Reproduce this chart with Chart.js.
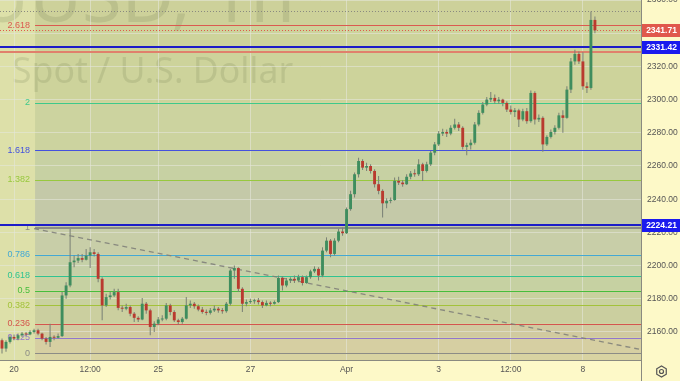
<!DOCTYPE html>
<html>
<head>
<meta charset="utf-8">
<script src="https://cdn.jsdelivr.net/npm/chart.js@4.4.1/dist/chart.umd.min.js"></script>
<style>
html, body { margin: 0; padding: 0; background: #fdf9c8; }
#c { display: block; }
</style>
</head>
<body>
<canvas id="c" width="680" height="381"></canvas>
<script>
// XAUUSD 1h candles, one slot per candle
const opens = [
 2155,2150,2154,2157,2156,2158,2159,2158.5,2160,2161,
 2159,2156,2154,2157,2156.5,2157.5,2182,2188,2202,2203,
 2204.5,2203.5,2206,2208,2207,2192,2176,2181,2182,2184,
 2174.5,2174,2175,2171,2168.5,2167.5,2177,2173,2163,2165,
 2167.5,2168,2176,2172,2167,2166,2168,2176,2177,2175.5,
 2173.5,2172,2171.5,2173,2174,2173,2172.5,2177,2197,2198.5,
 2186,2177,2178,2178.5,2179,2178,2176,2177.5,2177,2178,
 2192.5,2188,2191,2192,2191,2193,2189.5,2193,2196.5,2198,
 2194,2209,2215,2207,2215,2220.5,2219.5,2234,2243,2255,
 2263,2259,2260,2257,2249,2245,2237.5,2239,2239.5,2251,
 2250,2249,2253.5,2255.5,2255,2261,2257,2261,2268,2273,
 2279.5,2280.5,2279.5,2283,2285,2283,2271.5,2272.5,2274,2285,
 2292,2297,2300,2301,2299,2300,2298,2294,2292.5,2293.5,
 2288,2293,2287,2304,2288,2289,2273,2277.5,2280.5,2283,
 2290.5,2289,2306,2323,2327.5,2323,2308,2307,2348
];
const highs = [
 2156,2155,2158,2158.5,2159,2160,2160,2161,2162,2162,
 2159.5,2157,2165,2158,2159,2184,2190,2222,2206,2207,
 2207,2210,2211,2210,2208,2193,2183,2184,2186,2186,
 2176,2177,2176,2172,2169.5,2180.5,2178,2174,2166.5,2169,
 2170,2177.5,2177,2173,2168,2169,2181,2179,2178,2176.5,
 2175,2173.5,2174.5,2176,2175,2174.5,2178,2198,2200,2199,
 2187,2179.5,2180,2180,2180.5,2179,2179,2178.5,2179,2194,
 2193.5,2192.5,2193,2194,2194.5,2194,2194,2197.5,2199.5,2199,
 2211,2217,2216,2216.5,2222,2223,2235,2245,2256,2265,
 2264,2262,2261,2258,2254,2246,2240.5,2241,2253,2253.5,
 2251.5,2255,2257,2258,2264,2262,2262.5,2269,2274.5,2281,
 2282.5,2282,2284.5,2288.5,2286.5,2284,2274,2276,2286.5,2293.5,
 2298.5,2301.5,2304.5,2303,2301.5,2300.5,2299,2296.5,2295,2294.5,
 2294.5,2295,2305.5,2305,2291,2290,2278.5,2282,2284.5,2292,
 2293.5,2308,2325,2330,2329,2328.5,2310.5,2353,2350
];
const lows = [
 2147,2148,2153,2155,2155,2157,2157.5,2158,2159,2158,
 2155,2152.5,2151,2155,2156,2157,2180,2187,2199,2201.5,
 2202,2203,2198.5,2205.5,2190,2167,2175,2179.5,2181,2173,
 2172,2173,2169.5,2166,2166,2167,2171,2158,2160,2164,
 2166.5,2167,2170,2166,2164.5,2165,2167.5,2174.5,2174,2172.5,
 2171,2170,2170.5,2172,2171.5,2171,2171.5,2176,2192,2184,
 2172,2175.5,2177,2177,2176.5,2174.5,2175.5,2175.5,2176.5,2177.5,
 2185,2187,2189.5,2189.5,2190,2188,2189,2192,2195.5,2191,
 2193,2208,2205,2206,2214,2218,2219,2233,2241,2253,
 2257.5,2257,2255.5,2247,2243,2229,2234.5,2237.5,2239,2248.5,
 2247.5,2248.5,2252,2253.5,2254,2251,2256,2260,2266.5,2272,
 2278,2277.5,2278.5,2282,2281,2270,2266.5,2270,2273,2284,
 2291,2296,2298.5,2297.5,2297.5,2296,2292.5,2291,2289.5,2283.5,
 2287,2285.5,2286,2285,2286.5,2268.5,2272,2276.5,2279,2282,
 2280,2288.5,2304,2321,2321.5,2306,2304,2306,2340
];
const closes = [
 2150,2154,2157,2156,2158,2159,2158.5,2160,2161,2159,
 2156,2154,2157,2156.5,2157.5,2182,2188,2202,2203,2204.5,
 2203.5,2206,2208,2207,2192,2176,2181,2182,2184,2174.5,
 2174,2175,2171,2168.5,2167.5,2177,2173,2163,2165,2167.5,
 2168,2176,2172,2167,2166,2168,2176,2177,2175.5,2173.5,
 2172,2171.5,2173,2174,2173,2172.5,2177,2197,2198.5,2186,
 2177,2178,2178.5,2179,2178,2176,2177.5,2177,2178,2192.5,
 2188,2191,2192,2191,2193,2189.5,2193,2196.5,2198,2194,
 2209,2215,2207,2215,2220.5,2219.5,2234,2243,2255,2263,
 2259,2260,2257,2249,2245,2237.5,2239,2239.5,2251,2250,
 2249,2253.5,2255.5,2255,2261,2257,2261,2268,2273,2279.5,
 2280.5,2279.5,2283,2285,2283,2271.5,2272.5,2274,2285,2292,
 2297,2300,2301,2299,2300,2298,2294,2292.5,2293.5,2288,
 2293,2287,2304,2288,2289,2273,2277.5,2280.5,2283,2290.5,
 2289,2306,2323,2327.5,2323,2308,2307,2348,2341.71
];

const slotCount = 160;
const tickSlots = [3, 22, 39, 62, 86, 109, 127, 145];
const tickTexts = ['20', '12:00', '25', '27', 'Apr', '3', '12:00', '8'];
const yTickValues = [2160, 2180, 2200, 2220, 2240, 2260, 2280, 2300, 2320, 2340, 2360];
const yMin = 2143.1, yMax = 2360;

// fibonacci drawing
const fibLow = 2147.2, fibHigh = 2222.7, fibStartSlot = 8.25;
const fibLevels = [0, 0.125, 0.236, 0.382, 0.5, 0.618, 0.786, 1, 1.382, 1.618, 2, 2.618];
const fibNames = ['0', '0.125', '0.236', '0.382', '0.5', '0.618', '0.786', '1', '1.382', '1.618', '2', '2.618'];
const fibColors = ['#8c8c86', '#9277cc', '#d4554e', '#a3c23a', '#47bd3c', '#2fc392', '#43a8d4',
                   '#8c8c86', '#98c83e', '#4452de', '#3ec98a', '#db5a50'];
// bands from below level 0 up to above 2.618
const bandColors = ['#d8d3a2', '#d6cfa2', '#d1caa0', '#cbcf9f', '#c9d19f', '#c6d1a2', '#c5d0a7',
                    '#c8cea8', '#c4c9a8', '#c7d1a3', '#ccd39f', '#cdd39b', '#cdd19a'];

// trend line ends
const trendSlots = [8, 159];
const trendValues = [2222.3, 2149.6];

// horizontal lines and price tags
const blueLines = [2331.42, 2224.21];
const salmonLine = 2328.6;
const highLine = 2353.2;
const lastPrice = 2341.71;

const FONT = '"Liberation Sans", Arial, sans-serif';

const labels = [];
for (let i = 0; i < slotCount; i++) labels.push('');
tickSlots.forEach((s, k) => { labels[s] = tickTexts[k]; });

const bodies = opens.map((o, i) => [o, closes[i]]);
const bodyColors = opens.map((o, i) => closes[i] >= o ? '#3f8d5e' : '#b93a2f');
const wicks = lows.map((l, i) => [l, highs[i]]);
const trendData = labels.map(() => null);
trendSlots.forEach((s, k) => { trendData[s] = trendValues[k]; });

function fibPrice(lv) { return fibLow + lv * (fibHigh - fibLow); }
function crisp(y) { return Math.round(y) + 0.5; }

const scene = {
    id: 'scene',
    beforeDraw(chart) {
        const ctx = chart.ctx, a = chart.chartArea, ys = chart.scales.y;
        const x0 = chart.scales.x.getPixelForValue(fibStartSlot);
        ctx.save();
        ctx.fillStyle = '#fdf9c8';
        ctx.fillRect(0, 0, chart.width, chart.height);
        ctx.fillStyle = '#dde0a9';
        ctx.fillRect(a.left, a.top, a.width, a.height);
        ctx.beginPath();
        ctx.rect(a.left, a.top, a.width, a.height);
        ctx.clip();
        const edges = [yMin].concat(fibLevels.map(fibPrice), [yMax]);
        for (let k = 0; k < edges.length - 1; k++) {
            const top = ys.getPixelForValue(edges[k + 1]);
            const bot = ys.getPixelForValue(edges[k]);
            ctx.fillStyle = bandColors[k];
            ctx.fillRect(x0, top, a.right - x0, bot - top);
        }
        // watermark
        ctx.fillStyle = 'rgba(100,110,70,0.17)';
        ctx.textBaseline = 'alphabetic';
        ctx.textAlign = 'right';
        ctx.font = '72px "Noto Sans", sans-serif';
        ctx.fillText('XAUUSD, 1h', 295, 22);
        ctx.textAlign = 'left';
        ctx.font = '34px "Noto Sans", sans-serif';
        const w = ctx.measureText('Spot / U.S. Dollar').width;
        ctx.font = (34 * 281 / w).toFixed(1) + 'px "Noto Sans", sans-serif';
        ctx.fillText('Spot / U.S. Dollar', 12, 83);
        ctx.restore();
    },
    beforeDatasetsDraw(chart) {
        const ctx = chart.ctx, a = chart.chartArea, ys = chart.scales.y;
        const x0 = chart.scales.x.getPixelForValue(fibStartSlot);
        ctx.save();
        ctx.beginPath();
        ctx.rect(a.left, a.top, a.width, a.height);
        ctx.clip();
        // fib levels
        ctx.font = '9px ' + FONT;
        ctx.textAlign = 'right';
        ctx.textBaseline = 'middle';
        fibLevels.forEach((lv, k) => {
            const y = ys.getPixelForValue(fibPrice(lv));
            ctx.strokeStyle = fibColors[k];
            ctx.lineWidth = lv === 1 ? 2 : 1;
            ctx.beginPath();
            const yy = lv === 1 ? Math.round(y) : crisp(y);
            ctx.moveTo(x0, yy);
            ctx.lineTo(a.right, yy);
            ctx.stroke();
            ctx.fillStyle = fibColors[k];
            ctx.fillText(fibNames[k], x0 - 5, y);
        });
        // dotted high and price lines
        ctx.setLineDash([1, 2]);
        ctx.lineWidth = 1;
        ctx.strokeStyle = '#8a8a80';
        let y = crisp(ys.getPixelForValue(highLine));
        ctx.beginPath(); ctx.moveTo(a.left, y); ctx.lineTo(a.right, y); ctx.stroke();
        ctx.strokeStyle = '#e0584c';
        y = crisp(ys.getPixelForValue(lastPrice));
        ctx.beginPath(); ctx.moveTo(a.left, y); ctx.lineTo(a.right, y); ctx.stroke();
        ctx.setLineDash([]);
        // salmon + blue horizontals
        ctx.lineWidth = 2;
        ctx.strokeStyle = '#e0806c';
        y = Math.round(ys.getPixelForValue(salmonLine));
        ctx.beginPath(); ctx.moveTo(a.left, y); ctx.lineTo(a.right, y); ctx.stroke();
        ctx.strokeStyle = '#1c1cc8';
        blueLines.forEach(v => {
            const yb = Math.round(ys.getPixelForValue(v));
            ctx.beginPath(); ctx.moveTo(a.left, yb); ctx.lineTo(a.right, yb); ctx.stroke();
        });
        ctx.restore();
    },
    afterDraw(chart) {
        const ctx = chart.ctx, a = chart.chartArea, ys = chart.scales.y;
        ctx.save();
        // axis line down through the time scale
        ctx.strokeStyle = '#8a8a80';
        ctx.lineWidth = 1;
        ctx.beginPath();
        ctx.moveTo(Math.round(a.right) + 0.5, a.bottom);
        ctx.lineTo(Math.round(a.right) + 0.5, chart.height);
        ctx.stroke();
        // price tags
        ctx.font = 'bold 8.5px ' + FONT;
        ctx.textAlign = 'center';
        ctx.textBaseline = 'middle';
        const tags = [[lastPrice, '#e0584c'], [blueLines[0], '#1a1aee'], [blueLines[1], '#1a1aee']];
        tags.forEach(t => {
            const y = ys.getPixelForValue(t[0]);
            ctx.fillStyle = t[1];
            ctx.fillRect(a.right + 1, Math.round(y) - 6, chart.width - a.right - 1, 13);
            ctx.fillStyle = '#ffffff';
            ctx.fillText(t[0].toFixed(2), (a.right + chart.width) / 2 + 1, y + 0.5);
        });
        // settings icon in the corner
        const cx = (a.right + chart.width) / 2 + 1, cy = (a.bottom + chart.height) / 2 + 1;
        ctx.strokeStyle = '#555';
        ctx.lineWidth = 1.2;
        ctx.beginPath();
        for (let k = 0; k < 6; k++) {
            const ang = Math.PI / 6 + k * Math.PI / 3;
            const px = cx + 5.5 * Math.cos(ang), py = cy + 5.5 * Math.sin(ang);
            if (k === 0) ctx.moveTo(px, py); else ctx.lineTo(px, py);
        }
        ctx.closePath();
        ctx.stroke();
        ctx.beginPath();
        ctx.arc(cx, cy, 2, 0, Math.PI * 2);
        ctx.stroke();
        ctx.restore();
    }
};

const gridColor = 'rgba(228,230,218,0.6)';

new Chart(document.getElementById('c'), {
    type: 'bar',
    data: {
        labels: labels,
        datasets: [
            {
                label: 'body',
                data: bodies,
                backgroundColor: bodyColors,
                borderWidth: 0,
                barPercentage: 0.72,
                categoryPercentage: 1,
                grouped: false,
                minBarLength: 1,
                order: 0
            },
            {
                label: 'wick',
                data: wicks,
                backgroundColor: '#7b8276',
                borderWidth: 0,
                barPercentage: 0.26,
                categoryPercentage: 1,
                grouped: false,
                order: 1
            },
            {
                type: 'line',
                label: 'trend',
                data: trendData,
                borderColor: 'rgba(125,125,120,0.85)',
                borderWidth: 1.3,
                borderDash: [5, 4],
                pointRadius: 0,
                spanGaps: true,
                order: 2
            }
        ]
    },
    options: {
        responsive: false,
        animation: false,
        devicePixelRatio: 1,
        layout: { padding: 0 },
        plugins: { legend: { display: false }, tooltip: { enabled: false } },
        scales: {
            x: {
                type: 'category',
                offset: true,
                grid: { offset: false, color: gridColor, drawTicks: false },
                border: { color: '#8a8a80' },
                ticks: { autoSkip: false, maxRotation: 0, padding: 5, color: '#555', font: { family: FONT, size: 8.5 } },
                afterBuildTicks: s => { s.ticks = tickSlots.map(v => ({ value: v })); },
                afterFit: s => { s.height = 21; s.paddingLeft = 0; s.paddingRight = 0; }
            },
            y: {
                position: 'right',
                min: yMin,
                max: yMax,
                grid: { color: gridColor, drawTicks: false },
                border: { color: '#8a8a80' },
                ticks: { padding: 6, color: '#555', font: { family: FONT, size: 8.5 }, callback: v => v.toFixed(2) },
                afterBuildTicks: s => { s.ticks = yTickValues.map(v => ({ value: v })); },
                afterFit: s => { s.width = 39; s.paddingTop = 0; s.paddingBottom = 0; }
            }
        }
    },
    plugins: [scene]
});
</script>
</body>
</html>
